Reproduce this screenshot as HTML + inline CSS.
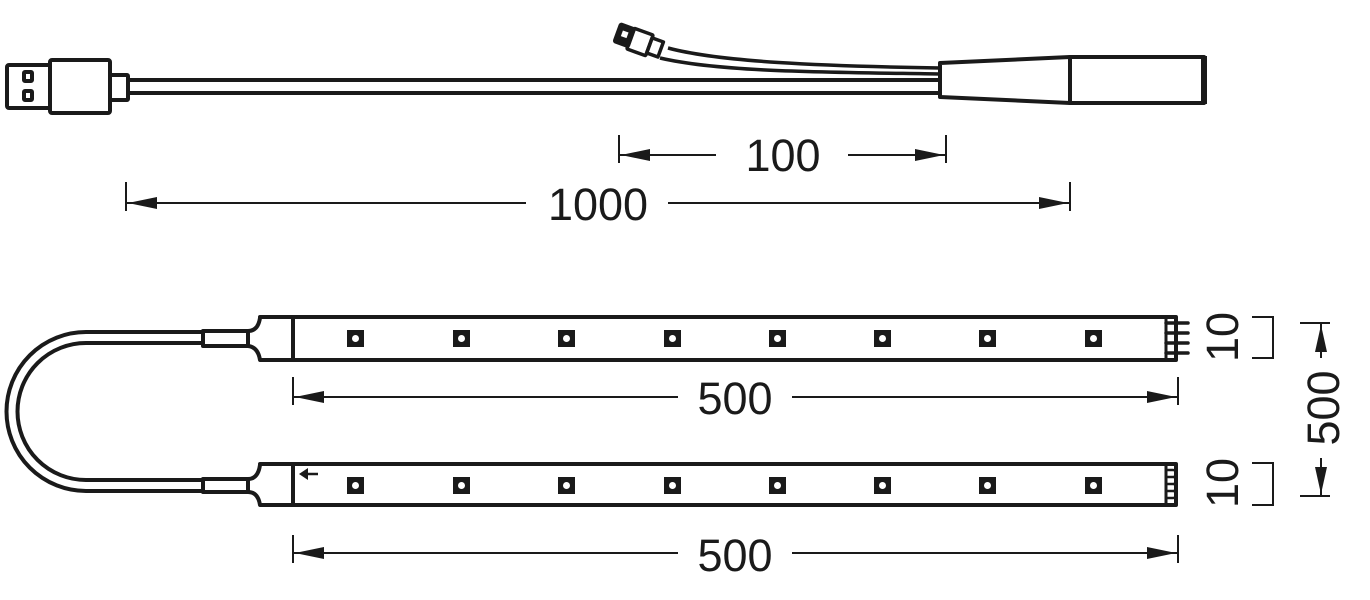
<!DOCTYPE html>
<html><head><style>html,body{margin:0;padding:0;background:#fff}svg{display:block}</style></head>
<body>
<svg width="1370" height="600" viewBox="0 0 1370 600" xmlns="http://www.w3.org/2000/svg">
<g fill="none" stroke="#1a1a1a" stroke-width="4" stroke-linejoin="round">
<!-- USB plug -->
<rect x="7" y="65" width="43" height="43" rx="2"/>
<rect x="24" y="72" width="8" height="9" rx="1" stroke-width="4"/>
<rect x="24" y="91" width="8" height="9" rx="1" stroke-width="4"/>
<rect x="50" y="60" width="60" height="53" rx="2"/>
<rect x="110" y="75" width="18" height="25" rx="1"/>
<line x1="128" y1="80" x2="940" y2="80"/>
<line x1="128" y1="93" x2="940" y2="93"/>
<!-- branch cable -->
<path d="M668 48 C720 62 820 66 940 68" stroke-width="3.5"/>
<path d="M660 58 C720 72 820 72 940 74" stroke-width="3.5"/>
<g transform="translate(640 42) rotate(20)">
<rect x="-24" y="-10" width="14" height="18" rx="1" fill="#1a1a1a"/>
<rect x="-20" y="-5" width="6" height="6" fill="#fff" stroke="none"/>
<rect x="-10" y="-11" width="20" height="22" rx="1" stroke-width="3.5"/>
<rect x="10" y="-8" width="12" height="16" stroke-width="3.5"/>
</g>
<!-- sleeve -->
<path d="M940 63 L1070 57 L1070 103 L940 97 Z"/>
<rect x="1070" y="57" width="134" height="46"/>
<line x1="1204" y1="56" x2="1204" y2="104" stroke-width="6"/>
</g>
<!-- dims -->
<g stroke="#1a1a1a" stroke-width="2" fill="none">
<line x1="619" y1="135" x2="619" y2="163"/><line x1="946" y1="135" x2="946" y2="163"/>
<line x1="619" y1="155" x2="716" y2="155"/><line x1="848" y1="155" x2="946" y2="155"/>
<line x1="126" y1="182" x2="126" y2="211"/><line x1="1070" y1="182" x2="1070" y2="211"/>
<line x1="126" y1="203" x2="526" y2="203"/><line x1="668" y1="203" x2="1070" y2="203"/>
<line x1="293" y1="377" x2="293" y2="405"/><line x1="1178" y1="377" x2="1178" y2="405"/>
<line x1="293" y1="397" x2="678" y2="397"/><line x1="792" y1="397" x2="1178" y2="397"/>
<line x1="293" y1="535" x2="293" y2="563"/><line x1="1178" y1="535" x2="1178" y2="563"/>
<line x1="293" y1="553" x2="678" y2="553"/><line x1="792" y1="553" x2="1178" y2="553"/>
<polyline points="1252,317 1273,317 1273,358 1252,358"/>
<polyline points="1252,463 1273,463 1273,505 1252,505"/>
<line x1="1300" y1="323" x2="1330" y2="323"/><line x1="1321" y1="323" x2="1321" y2="358"/>
<line x1="1300" y1="496" x2="1330" y2="496"/><line x1="1321" y1="458" x2="1321" y2="496"/>
</g>
<g fill="#1a1a1a">
<polygon points="621,155 650,149 650,161"/><polygon points="944,155 915,149 915,161"/>
<polygon points="128,203 157,197 157,209"/><polygon points="1068,203 1039,197 1039,209"/>
<polygon points="295,397 324,391 324,403"/><polygon points="1176,397 1147,391 1147,403"/>
<polygon points="295,553 324,547 324,559"/><polygon points="1176,553 1147,547 1147,559"/>
<polygon points="1321,325 1315,352 1327,352"/><polygon points="1321,494 1315,467 1327,467"/>
</g>
<g font-family="Liberation Sans, sans-serif" font-size="45" fill="#1a1a1a" text-anchor="middle">
<text x="783" y="171">100</text>
<text x="598" y="220">1000</text>
<text x="735" y="414">500</text>
<text x="735" y="571">500</text>
<text transform="translate(1238 337) rotate(-90)">10</text>
<text transform="translate(1238 483) rotate(-90)">10</text>
<text transform="translate(1339 408) rotate(-90)">500</text>
</g>
<!-- strips -->
<g fill="none" stroke="#1a1a1a" stroke-width="4" stroke-linejoin="round">
<path d="M203 332 H86 A79.5 79.5 0 0 0 86 491 H203"/>
<path d="M203 343 H86 A68.5 68.5 0 0 0 86 480 H203"/>
<rect x="203" y="331" width="45" height="15"/>
<path d="M248 331 Q258 331 260 318 L260 317 H1176 V360 H260 Q258 347 248 346"/>
<line x1="293" y1="317" x2="293" y2="360"/>
<rect x="203" y="479" width="45" height="13"/>
<path d="M248 479 Q258 479 260 465 L260 464 H1176 V505 H260 Q258 492 248 492"/>
<line x1="293" y1="464" x2="293" y2="505"/>
<line x1="1166" y1="317" x2="1166" y2="360" stroke-width="3"/>
<line x1="1166" y1="464" x2="1166" y2="505" stroke-width="3"/>
<g stroke-width="3.5" stroke-linecap="round">
<line x1="1166" y1="323" x2="1188" y2="323"/><line x1="1166" y1="333" x2="1188" y2="333"/>
<line x1="1166" y1="343" x2="1188" y2="343"/><line x1="1166" y1="353" x2="1188" y2="353"/>
</g>
<g stroke-width="2.5">
<path d="M1166 470 h7 a3 3 0 0 1 0 7 h-7 M1166 477 h7 a3 3 0 0 1 0 7 h-7 M1166 484 h7 a3 3 0 0 1 0 7 h-7 M1166 491 h7 a3 3 0 0 1 0 7 h-7"/>
</g>
<line x1="301" y1="474" x2="318" y2="474" stroke-width="2.5"/>
</g>
<polygon points="299,474 308,468 308,480" fill="#1a1a1a"/>
<g fill="#1a1a1a">
<rect x="347" y="330" width="17" height="17"/><rect x="453" y="330" width="17" height="17"/>
<rect x="558" y="330" width="17" height="17"/><rect x="664" y="330" width="17" height="17"/>
<rect x="769" y="330" width="17" height="17"/><rect x="874" y="330" width="17" height="17"/>
<rect x="979" y="330" width="17" height="17"/><rect x="1085" y="330" width="17" height="17"/>
<rect x="347" y="477" width="17" height="17"/><rect x="453" y="477" width="17" height="17"/>
<rect x="558" y="477" width="17" height="17"/><rect x="664" y="477" width="17" height="17"/>
<rect x="769" y="477" width="17" height="17"/><rect x="874" y="477" width="17" height="17"/>
<rect x="979" y="477" width="17" height="17"/><rect x="1085" y="477" width="17" height="17"/>
</g>
<g fill="#fff">
<circle cx="355.5" cy="338.5" r="3.5"/><circle cx="461.5" cy="338.5" r="3.5"/><circle cx="566.5" cy="338.5" r="3.5"/><circle cx="672.5" cy="338.5" r="3.5"/>
<circle cx="777.5" cy="338.5" r="3.5"/><circle cx="882.5" cy="338.5" r="3.5"/><circle cx="987.5" cy="338.5" r="3.5"/><circle cx="1093.5" cy="338.5" r="3.5"/>
<circle cx="355.5" cy="485.5" r="3.5"/><circle cx="461.5" cy="485.5" r="3.5"/><circle cx="566.5" cy="485.5" r="3.5"/><circle cx="672.5" cy="485.5" r="3.5"/>
<circle cx="777.5" cy="485.5" r="3.5"/><circle cx="882.5" cy="485.5" r="3.5"/><circle cx="987.5" cy="485.5" r="3.5"/><circle cx="1093.5" cy="485.5" r="3.5"/>
</g>
</svg>
</body></html>
